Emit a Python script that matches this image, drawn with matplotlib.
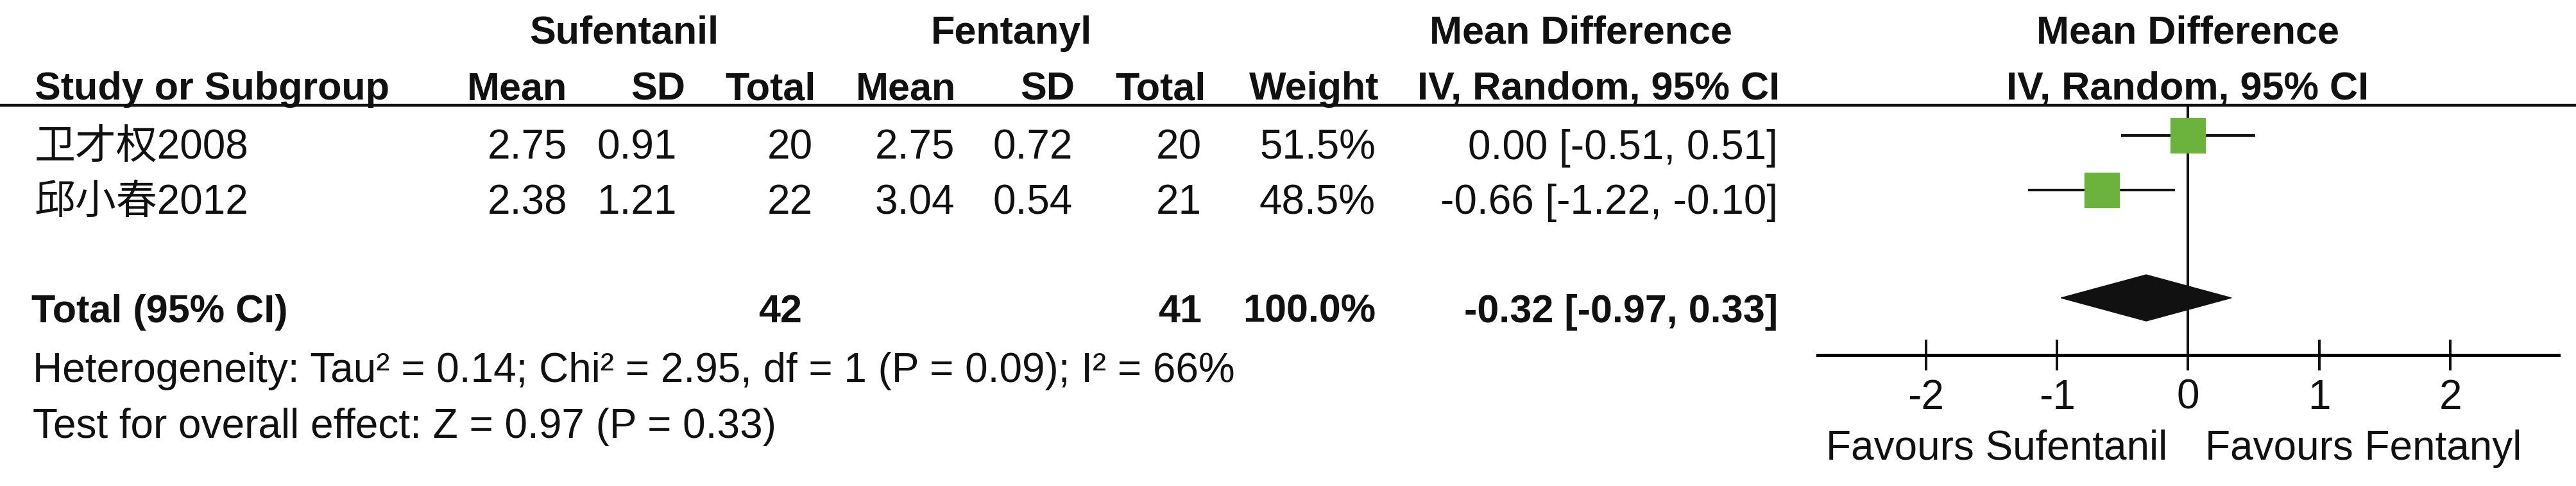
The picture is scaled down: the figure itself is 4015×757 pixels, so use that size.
import matplotlib
matplotlib.use('Agg')
import matplotlib.pyplot as plt
import numpy as np

plt.rcParams['font.family'] = ['Liberation Sans', 'Noto Sans CJK SC', 'DejaVu Sans']

'''
数据部分
'''
studies = ['卫才权2008', '邱小春2012']
suf_mean = [2.75, 2.38]
suf_sd = [0.91, 1.21]
suf_n = [20, 22]
fen_mean = [2.75, 3.04]
fen_sd = [0.72, 0.54]
fen_n = [20, 21]
weight = [51.5, 48.5]
md = [0.00, -0.66]
md_lo = [-0.51, -1.22]
md_hi = [0.51, -0.10]

total_n = [42, 41]
total_weight = 100.0
total_md = -0.32
total_lo = -0.97
total_hi = 0.33

het_text = 'Heterogeneity: Tau² = 0.14; Chi² = 2.95, df = 1 (P = 0.09); I² = 66%'
effect_text = 'Test for overall effect: Z = 0.97 (P = 0.33)'
x_ticks = [-2, -1, 0, 1, 2]
favours = ['Favours Sufentanil', 'Favours Fentanyl']

'''
布局（像素）
'''
W, H = 4016, 757
row_base = [248, 333]      # 文字基线
total_base = 502
marker_shift = 37          # 方块中心高于文字基线
line_y = 164
axis_y = 553
green = '#6cb33e'
fs_b = 44
fs_r = 46

fig = plt.figure(figsize=(W / 100, H / 100), dpi=100)

# 表格文字层
tx = fig.add_axes([0, 0, 1, 1])
tx.set_xlim(0, W)
tx.set_ylim(H, 0)
tx.axis('off')

def put(x, y, s, ha='right', bold=False, size=None):
    tx.text(x, y, s, ha=ha, va='baseline',
            fontsize=size or (fs_b if bold else fs_r),
            fontweight='bold' if bold else 'normal', color='#111111')

# 表头
put(973, 68, 'Sufentanil', ha='center', bold=True)
put(1577, 68, 'Fentanyl', ha='center', bold=True)
put(2464, 68, 'Mean Difference', ha='center', bold=True)
put(3410, 68, 'Mean Difference', ha='center', bold=True)

put(54, 155, 'Study or Subgroup', ha='left', bold=True)
put(884, 155, 'Mean', bold=True)
put(1068, 155, 'SD', bold=True)
put(1272, 155, 'Total', bold=True)
put(1490, 155, 'Mean', bold=True)
put(1675, 155, 'SD', bold=True)
put(1880, 155, 'Total', bold=True)
put(2149, 155, 'Weight', bold=True)
put(2774, 155, 'IV, Random, 95% CI', bold=True)
put(3410, 155, 'IV, Random, 95% CI', ha='center', bold=True)

tx.axhline(line_y, color='#111111', lw=3.2)

# 各研究
for i, s in enumerate(studies):
    y = row_base[i]
    put(54, y, s, ha='left')
    put(884, y, f'{suf_mean[i]:.2f}')
    put(1055, y, f'{suf_sd[i]:.2f}')
    put(1267, y, f'{suf_n[i]}')
    put(1488, y, f'{fen_mean[i]:.2f}')
    put(1672, y, f'{fen_sd[i]:.2f}')
    put(1873, y, f'{fen_n[i]}')
    put(2144, y, f'{weight[i]:.1f}%')
    put(2771, y, f'{md[i]:.2f} [{md_lo[i]:.2f}, {md_hi[i]:.2f}]')

# 合计
put(49, total_base, 'Total (95% CI)', ha='left', bold=True)
put(1250, total_base, f'{total_n[0]}', bold=True)
put(1873, total_base, f'{total_n[1]}', bold=True)
put(2144, total_base, f'{total_weight:.1f}%', bold=True)
put(2771, total_base, f'{total_md:.2f} [{total_lo:.2f}, {total_hi:.2f}]', bold=True)
put(51, 595, het_text, ha='left')
put(51, 682, effect_text, ha='left')

'''
森林图部分
'''
fx = fig.add_axes([2833 / W, 0, (3988 - 2833) / W, 1])
fx.patch.set_visible(False)
fx.set_xlim(-2.825, 2.825)
fx.set_ylim(H, 0)
for side in ['top', 'left', 'right']:
    fx.spines[side].set_visible(False)
fx.spines['bottom'].set_position(('data', axis_y))
fx.spines['bottom'].set_linewidth(3.6)
fx.set_yticks([])
fx.set_xticks(x_ticks)
fx.set_xticklabels([str(t) for t in x_ticks])
fx.tick_params(axis='x', direction='inout', length=34, width=2.9,
               labelsize=fs_r, pad=9.5, colors='#111111')

fx.vlines(0, line_y, axis_y + 24, color='#111111', lw=2.9, zorder=2)

for i in range(len(studies)):
    y = row_base[i] - marker_shift
    fx.hlines(y, md_lo[i], md_hi[i], color='#111111', lw=2.9, zorder=3)
    fx.plot(md[i], y, marker='s', ms=39 * np.sqrt(weight[i] / 50.0),
            color=green, mec=green, ls='none', zorder=4)

yd = total_base - marker_shift - 1
fx.fill([total_lo, total_md, total_hi, total_md],
        [yd, yd - 36, yd, yd + 36], color='#111111', zorder=4)

fx.text(-0.16, 716, favours[0], ha='right', va='baseline', fontsize=fs_r, color='#111111')
fx.text(0.13, 716, favours[1], ha='left', va='baseline', fontsize=fs_r, color='#111111')

fig.savefig('out.png', dpi=100, facecolor='white')
